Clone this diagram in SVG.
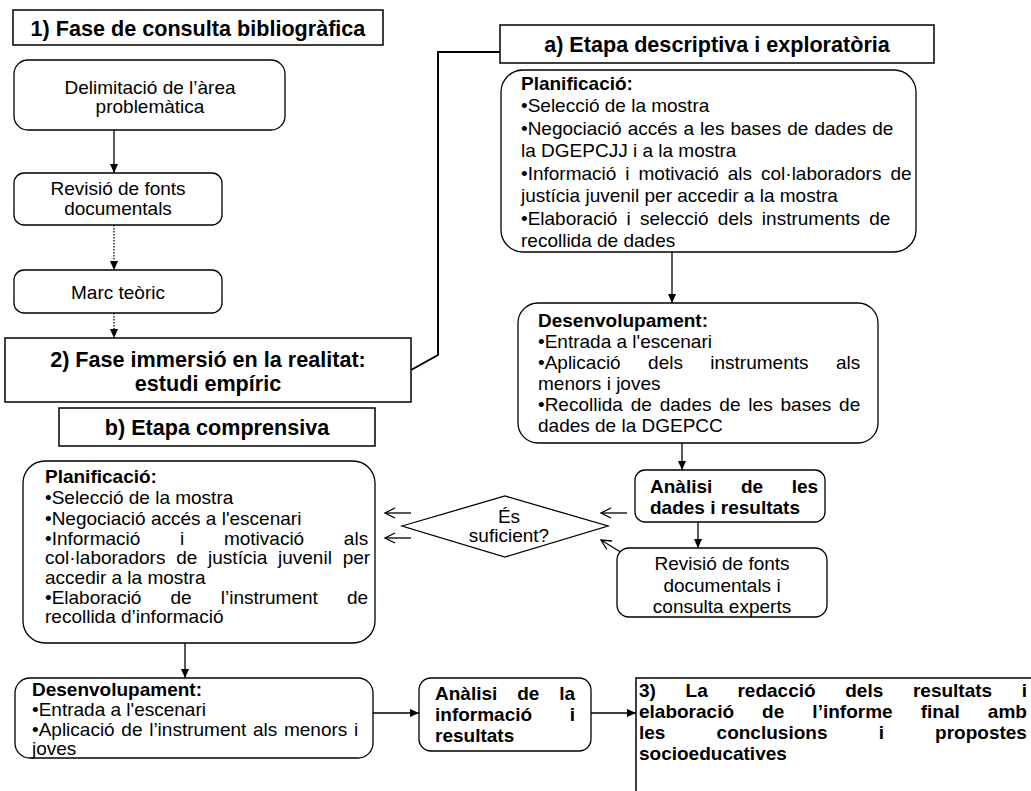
<svg xmlns="http://www.w3.org/2000/svg" width="1031" height="791" viewBox="0 0 1031 791">
<style>
.box{fill:#fff;stroke:#000;stroke-width:1.3}
.tb{fill:#fff;stroke:#000;stroke-width:1.5}
.t{font-family:"Liberation Sans",Arial,sans-serif;font-size:19px;fill:#000}
.b{font-weight:bold}
.ti{font-family:"Liberation Sans",Arial,sans-serif;font-size:21.6px;font-weight:bold;fill:#000}
.c{text-anchor:middle}
.ln{fill:none;stroke:#000;stroke-width:1.3}
.dot{fill:none;stroke:#000;stroke-width:1.3;stroke-dasharray:1.5 1.5}
.thick{fill:none;stroke:#000;stroke-width:2}
</style>
<defs>
<marker id="ah" viewBox="0 0 10 10" refX="10" refY="5" markerWidth="9" markerHeight="9" markerUnits="userSpaceOnUse" orient="auto"><path d="M0,0.5 L10,5 L0,9.5 z" fill="#000"/></marker>
<marker id="oh" viewBox="0 0 12 12" refX="11" refY="6" markerWidth="12" markerHeight="12" markerUnits="userSpaceOnUse" orient="auto"><path d="M1,1 L11,6 L1,11" fill="none" stroke="#000" stroke-width="1.3"/></marker>
</defs>
<rect width="1031" height="791" fill="#fff"/>

<g id="connectors">
<line class="ln" x1="114" y1="130" x2="114" y2="173" marker-end="url(#ah)"/>
<line class="dot" x1="114" y1="225" x2="114" y2="270" marker-end="url(#ah)"/>
<line class="dot" x1="114" y1="313" x2="114" y2="338" marker-end="url(#ah)"/>
<polyline class="thick" points="411,370 438,355 438,52 500,52"/>
<line class="ln" x1="672" y1="252" x2="672" y2="303" marker-end="url(#ah)"/>
<line class="ln" x1="682" y1="443" x2="682" y2="470" marker-end="url(#ah)"/>
<line class="ln" x1="698" y1="522" x2="698" y2="548" marker-end="url(#ah)"/>
<line class="ln" x1="627" y1="513" x2="601" y2="513" marker-end="url(#oh)"/>
<line class="ln" x1="627" y1="556" x2="601" y2="540" marker-end="url(#oh)"/>
<line class="ln" x1="411" y1="513" x2="385" y2="513" marker-end="url(#oh)"/>
<line class="ln" x1="411" y1="538" x2="385" y2="538" marker-end="url(#oh)"/>
<line class="ln" x1="185" y1="643" x2="185" y2="678" marker-end="url(#ah)"/>
<line class="ln" x1="373" y1="713" x2="419" y2="713" marker-end="url(#ah)"/>
<line class="ln" x1="591" y1="713" x2="636" y2="713" marker-end="url(#ah)"/>
</g>

<g id="fase1">
<rect class="tb" x="13" y="10" width="370" height="35"/>
<text class="ti c" x="198" y="36">1) Fase de consulta bibliogràfica</text>
</g>

<g id="delimitacio">
<rect class="box" x="14" y="60" width="271" height="70" rx="14"/>
<text class="t c" x="150" y="94">Delimitació de l’àrea</text>
<text class="t c" x="150" y="113">problemàtica</text>
</g>

<g id="revisio1">
<rect class="box" x="14" y="173" width="208" height="52" rx="10"/>
<text class="t c" x="118" y="195">Revisió de fonts</text>
<text class="t c" x="118" y="215">documentals</text>
</g>

<g id="marc">
<rect class="box" x="14" y="270" width="208" height="43" rx="10"/>
<text class="t c" x="118" y="299">Marc teòric</text>
</g>

<g id="fase2">
<rect class="tb" x="5" y="338" width="406" height="64"/>
<text class="ti c" x="208" y="367">2) Fase immersió en la realitat:</text>
<text class="ti c" x="208" y="391">estudi empíric</text>
</g>

<g id="etapa-b">
<rect class="tb" x="59" y="408" width="316" height="38"/>
<text class="ti c" x="217" y="435">b) Etapa comprensiva</text>
</g>

<g id="etapa-a">
<rect class="tb" x="500" y="25" width="434" height="38"/>
<text class="ti c" x="717" y="52">a) Etapa descriptiva i exploratòria</text>
</g>

<g id="planif-a">
<rect class="box" x="501" y="70" width="415" height="182" rx="22"/>
<text class="t b" x="521" y="90">Planificació:</text>
<text class="t" x="521" y="112">•Selecció de la mostra</text>
<text class="t" x="521" y="135" word-spacing="0.8">•Negociació accés a les bases de dades de</text>
<text class="t" x="521" y="157">la DGEPCJJ i a la mostra</text>
<text class="t" x="521" y="180" word-spacing="3.7">•Informació i motivació als col·laboradors de</text>
<text class="t" x="521" y="202">justícia juvenil per accedir a la mostra</text>
<text class="t" x="521" y="225" word-spacing="3.9">•Elaboració i selecció dels instruments de</text>
<text class="t" x="521" y="247">recollida de dades</text>
</g>

<g id="desenv-a">
<rect class="box" x="518" y="303" width="360" height="140" rx="20"/>
<text class="t b" x="538" y="327">Desenvolupament:</text>
<text class="t" x="538" y="348">•Entrada a l'escenari</text>
<text class="t" x="538" y="369" word-spacing="22.1">•Aplicació dels instruments als</text>
<text class="t" x="538" y="390">menors i joves</text>
<text class="t" x="538" y="411" word-spacing="2.6">•Recollida de dades de les bases de</text>
<text class="t" x="538" y="432">dades de la DGEPCC</text>
</g>

<g id="analisi-a">
<rect class="box" x="635" y="470" width="190" height="52" rx="10"/>
<text class="t b" x="650" y="493" word-spacing="23.3">Anàlisi de les</text>
<text class="t b" x="650" y="514">dades i resultats</text>
</g>

<g id="revisio2">
<rect class="box" x="617" y="548" width="210" height="69" rx="12"/>
<text class="t c" x="722" y="570">Revisió de fonts</text>
<text class="t c" x="722" y="592">documentals i</text>
<text class="t c" x="722" y="613">consulta experts</text>
</g>

<g id="decisio">
<polygon class="box" points="402,526 505,496 608,526 505,557"/>
<text class="t c"><tspan x="509" y="523">És</tspan><tspan x="509" y="542">suficient?</tspan></text>
</g>

<g id="planif-b">
<rect class="box" x="23" y="461" width="352" height="182" rx="22"/>
<text class="t b" x="45" y="483">Planificació:</text>
<text class="t" x="45" y="504">•Selecció de la mostra</text>
<text class="t" x="45" y="525">•Negociació accés a l'escenari</text>
<text class="t" x="45" y="545" word-spacing="34.4">•Informació i motivació als</text>
<text class="t" x="45" y="564" word-spacing="5.5">col·laboradors de justícia juvenil per</text>
<text class="t" x="45" y="584">accedir a la mostra</text>
<text class="t" x="45" y="604" word-spacing="23.8">•Elaboració de l’instrument de</text>
<text class="t" x="45" y="623">recollida d’informació</text>
</g>

<g id="desenv-b">
<rect class="box" x="15" y="678" width="358" height="80" rx="15"/>
<text class="t b" x="32" y="696">Desenvolupament:</text>
<text class="t" x="32" y="716">•Entrada a l'escenari</text>
<text class="t" x="32" y="736" word-spacing="1.4">•Aplicació de l’instrument als menors i</text>
<text class="t" x="32" y="755">joves</text>
</g>

<g id="analisi-b">
<rect class="box" x="419" y="678" width="172" height="73" rx="12"/>
<text class="t b" x="435" y="700" word-spacing="14.6">Anàlisi de la</text>
<text class="t b" x="435" y="721" word-spacing="32.3">informació i</text>
<text class="t b" x="435" y="742">resultats</text>
</g>

<g id="fase3">
<rect class="tb" x="636" y="678" width="410" height="130"/>
<text class="t b" x="639" y="697" word-spacing="24.4">3) La redacció dels resultats i</text>
<text class="t b" x="639" y="718" word-spacing="22.8">elaboració de l’informe final amb</text>
<text class="t b" x="639" y="739" word-spacing="45.9">les conclusions i propostes</text>
<text class="t b" x="639" y="760">socioeducatives</text>
</g>
</svg>
